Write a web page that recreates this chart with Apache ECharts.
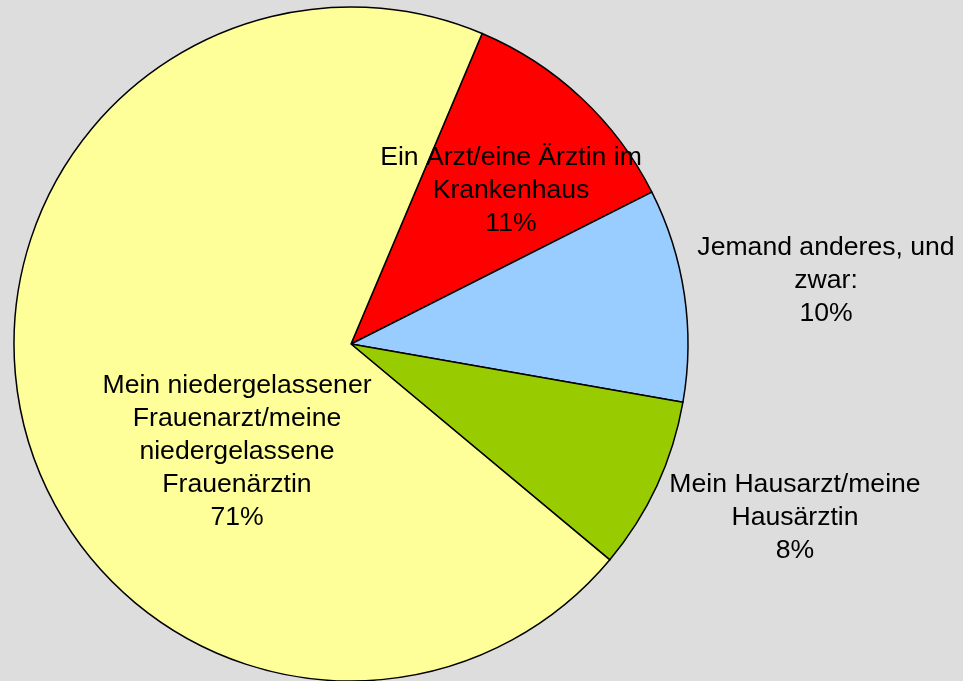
<!DOCTYPE html>
<html>
<head>
<meta charset="utf-8">
<script src="https://cdn.jsdelivr.net/npm/echarts@6/dist/echarts.min.js"></script>
<style>
    html, body { margin: 0; padding: 0; background: #dddddd; }
    #chart { width: 963px; height: 681px; }
</style>
</head>
<body>
<div id="chart"></div>
<script>
    // Anteile, wie sie im Bild als Winkel abzulesen sind
    const categories = [
        'Ein Arzt/eine Ärztin im\nKrankenhaus',
        'Jemand anderes, und\nzwar:',
        'Mein Hausarzt/meine\nHausärztin',
        'Mein niedergelassener\nFrauenarzt/meine\nniedergelassene\nFrauenärztin'
    ];
    const shares = [11.2, 10.2, 8.3, 70.3];
    const percentLabels = ['11%', '10%', '8%', '71%'];
    const colors = ['#ff0000', '#99ccff', '#99cc00', '#ffff99'];

    // Mittelpunkte der Beschriftungen
    const labelPos = [[511, 191], [826, 281], [795, 518], [237, 452]];

    const chart = echarts.init(document.getElementById('chart'));

    let data = [];
    for (let i = 0; i < categories.length; i++) {
        data.push({
            name: categories[i],
            value: shares[i],
            itemStyle: { color: colors[i] }
        });
    }

    chart.setOption({
        backgroundColor: '#dddddd',
        animation: false,
        series: [{
            type: 'pie',
            center: [351, 344],
            radius: 337,
            startAngle: 67.1,
            clockwise: true,
            data: data,
            itemStyle: {
                borderColor: '#000000',
                borderWidth: 1.5
            },
            label: {
                show: true,
                position: 'inside',
                color: '#000000',
                fontFamily: 'Liberation Sans, Arial, sans-serif',
                fontSize: 26.6,
                lineHeight: 33,
                align: 'center',
                formatter: (p) => p.name + '\n' + percentLabels[p.dataIndex]
            },
            labelLine: { show: false },
            labelLayout: (params) => {
                return {
                    x: labelPos[params.dataIndex][0],
                    y: labelPos[params.dataIndex][1],
                    align: 'center',
                    verticalAlign: 'middle'
                };
            },
            emphasis: { disabled: true }
        }]
    });
</script>
</body>
</html>
